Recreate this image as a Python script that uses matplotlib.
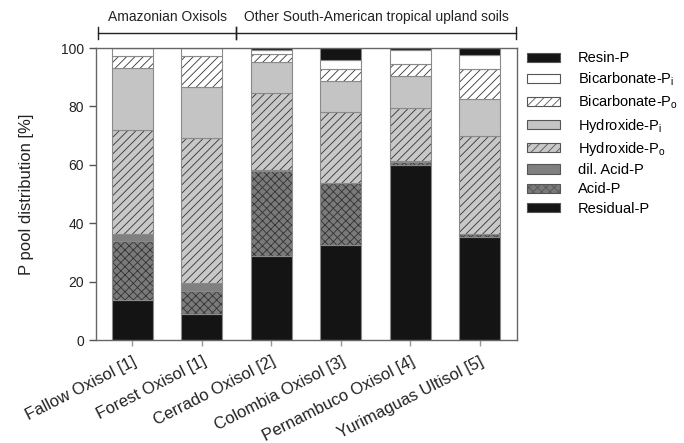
import matplotlib.pyplot as plt
import numpy as np
from matplotlib.patches import Patch
from matplotlib.lines import Line2D

plt.rcParams['font.family'] = ['Liberation Sans', 'DejaVu Sans']
plt.rcParams['mathtext.fontset'] = 'custom'
plt.rcParams['mathtext.rm'] = 'Liberation Sans'
plt.rcParams['hatch.linewidth'] = 0.6

soils = ['Fallow Oxisol [1]', 'Forest Oxisol [1]', 'Cerrado Oxisol [2]',
         'Colombia Oxisol [3]', 'Pernambuco Oxisol [4]', 'Yurimaguas Ultisol [5]']

# P fractions in % of total P, stacked from the bottom up
residual_p = [13.7, 8.8, 28.9, 32.5, 59.8, 35.2]
acid_p = [20.2, 8.0, 29.0, 21.4, 1.3, 1.1]
dil_acid_p = [2.4, 2.8, 0.3, 0.0, 0.3, 0.0]
hydroxide_po = [35.6, 49.5, 26.3, 24.1, 18.1, 33.7]
hydroxide_pi = [21.3, 17.4, 10.6, 10.8, 10.8, 12.5]
bicarbonate_po = [4.1, 10.8, 2.8, 4.1, 4.3, 10.3]
bicarbonate_pi = [2.7, 2.7, 1.6, 3.0, 4.7, 4.7]
resin_p = [0.0, 0.0, 0.5, 4.1, 0.7, 2.5]

fractions = [
    (residual_p, 'Residual-P', '#141414', None),
    (acid_p, 'Acid-P', '#7a7a7a', 'xxxx'),
    (dil_acid_p, 'dil. Acid-P', '#808080', None),
    (hydroxide_po, 'Hydroxide-P$_\\mathregular{o}$', '#c8c8c8', '////'),
    (hydroxide_pi, 'Hydroxide-P$_\\mathregular{i}$', '#c4c4c4', None),
    (bicarbonate_po, 'Bicarbonate-P$_\\mathregular{o}$', 'white', '////'),
    (bicarbonate_pi, 'Bicarbonate-P$_\\mathregular{i}$', 'white', None),
    (resin_p, 'Resin-P', '#141414', None),
]

fig = plt.figure(figsize=(6.84, 4.43), dpi=100)
ax = fig.add_axes([0.140, 0.2325, 0.616, 0.659])

x = np.arange(len(soils))
width = 0.59
bottom = np.zeros(len(soils))
handles = []
for vals, label, color, hatch in fractions:
    vals = np.array(vals)
    ax.bar(x, vals, width, bottom=bottom, color=color, hatch=hatch,
           edgecolor='#333333', linewidth=0)
    ax.bar(x, vals, width, bottom=bottom, fill=False,
           edgecolor='#8a8a8a', linewidth=0.8)
    handles.append(Patch(facecolor=color, hatch=hatch, edgecolor='#555555',
                         linewidth=0.8, label=label))
    bottom += vals

ax.set_xlim(-0.526, 5.54)
ax.set_ylim(0, 100)
ax.set_yticks(range(0, 101, 20))
ax.set_xticks(x)
ax.set_xticklabels(soils, rotation=27, ha='right', rotation_mode='anchor',
                   fontsize=12, color='#222222')
ax.tick_params(axis='y', direction='out', length=5, width=1, color='#555555',
               labelsize=10, labelcolor='#222222')
ax.tick_params(axis='x', direction='out', length=4, width=1, color='#999999', pad=6)
for s in ax.spines.values():
    s.set_color('#666666')
    s.set_linewidth(1)
ax.set_ylabel('P pool distribution [%]', fontsize=12, color='#222222', labelpad=19)

# group brackets above the bars
tr = ax.get_xaxis_transform()
groups = [(-0.5, 1.5, 'Amazonian Oxisols'),
          (1.5, 5.52, 'Other South-American tropical upland soils')]
for x0, x1, name in groups:
    ax.add_line(Line2D([x0, x1], [1.051, 1.051], transform=tr, color='#222222',
                       lw=1, clip_on=False))
    for xe in (x0, x1):
        ax.add_line(Line2D([xe, xe], [1.031, 1.071], transform=tr,
                           color='#222222', lw=1, clip_on=False))
    ax.text((x0 + x1) / 2, 1.082, name, transform=tr, ha='center', va='bottom',
            fontsize=10, color='#222222')

fig.legend(handles=handles[::-1], loc='upper left', bbox_to_anchor=(0.771, 0.884),
           frameon=False, fontsize=10.5, handlelength=2.25, handleheight=0.6,
           handletextpad=1.2, labelspacing=0.36, borderpad=0, borderaxespad=0)

fig.savefig('out.png', dpi=100)
